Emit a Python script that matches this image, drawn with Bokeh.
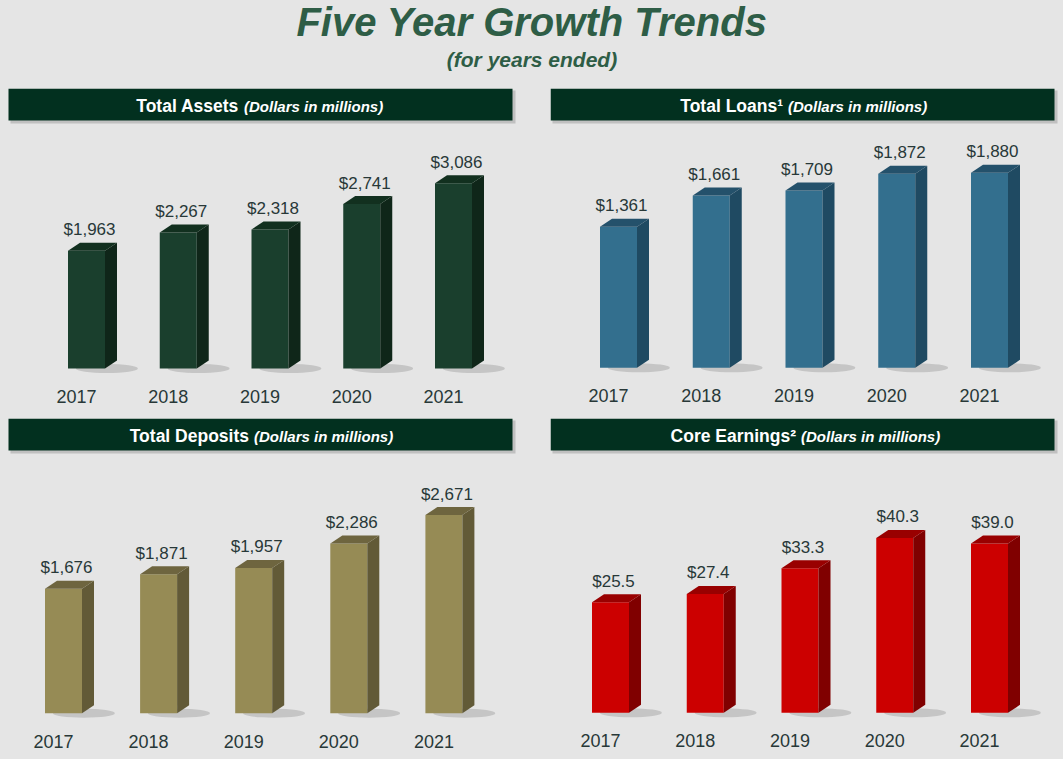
from bokeh.plotting import figure
from bokeh.models import Range1d
from bokeh.layouts import column, row
from bokeh.embed import file_html
from bokeh.resources import INLINE
from bokeh.core.properties import value

# ---------------- data ----------------
years = ["2017", "2018", "2019", "2020", "2021"]
total_assets = [1963, 2267, 2318, 2741, 3086]
total_loans = [1361, 1661, 1709, 1872, 1880]
total_deposits = [1676, 1871, 1957, 2286, 2671]
core_earnings = [25.5, 27.4, 33.3, 40.3, 39.0]

assets_labels = ["$" + f"{v:,.0f}" for v in total_assets]
loans_labels = ["$" + f"{v:,.0f}" for v in total_loans]
deposits_labels = ["$" + f"{v:,.0f}" for v in total_deposits]
earnings_labels = ["$" + f"{v:.1f}" for v in core_earnings]

BG = "#e5e5e5"
HEADER = "#02301f"
TEXT = "#283838"
FONT = value("Liberation Sans")


def panel(width, height, vals, labels, title_main, title_sub, hx0, split,
          first_px, step_px, base_px, scale, front, side, top):
    n = len(vals)
    xs = list(range(n))
    x0 = -first_px / step_px
    x1 = (width - first_px) / step_px
    y0 = -(height - base_px) / scale
    y1 = base_px / scale
    p = figure(width=width, height=height, x_range=Range1d(x0, x1),
               y_range=Range1d(y0, y1), output_backend="svg",
               toolbar_location=None, min_border=0,
               x_axis_location=None, y_axis_location=None,
               background_fill_color=BG, border_fill_color=BG,
               outline_line_color=None)
    p.grid.visible = False
    p.extra_x_ranges = {"px": Range1d(0, width)}
    p.extra_y_ranges = {"px": Range1d(height, 0)}

    # header band
    p.quad(left=[hx0 + 2], right=[hx0 + 507], top=[2], bottom=[35],
           fill_color="#9c9c9c", fill_alpha=0.5, line_color=None,
           x_range_name="px", y_range_name="px")
    p.quad(left=[hx0], right=[hx0 + 504], top=[0], bottom=[32], fill_color=HEADER,
           line_color=None, x_range_name="px", y_range_name="px")
    p.text(x=[split - 2.5], y=[17.5], text=[title_main], text_align="right",
           text_baseline="alphabetic", text_font=FONT, text_font_style="bold",
           text_font_size="17.5px", text_color="white",
           x_range_name="px", y_range_name="px")
    p.text(x=[split + 2.5], y=[17.5], text=[title_sub], text_align="left",
           text_baseline="alphabetic", text_font=FONT,
           text_font_style="bold italic", text_font_size="15px",
           text_color="white", x_range_name="px", y_range_name="px")

    w = 37.0 / step_px
    dx = 12.0 / step_px
    dy = 8.0 / scale

    # floor shadows
    p.ellipse(x=[i + w * 0.55 for i in xs], y=[0] * n, width=62, height=9,
              width_units="screen", height_units="screen",
              fill_color="#8a8a8a", fill_alpha=0.35, line_color=None)

    # front faces
    p.vbar(x=xs, top=vals, bottom=0, width=w, fill_color=front, line_color=None)
    # side faces
    side_x = [[i + w / 2, i + w / 2 + dx, i + w / 2 + dx, i + w / 2] for i in xs]
    side_y = [[0, dy, v + dy, v] for v in vals]
    p.patches(xs=side_x, ys=side_y, fill_color=side, line_color=None)
    # top faces
    top_x = [[i - w / 2, i - w / 2 + dx, i + w / 2 + dx, i + w / 2] for i in xs]
    top_y = [[v, v + dy, v + dy, v] for v in vals]
    p.patches(xs=top_x, ys=top_y, fill_color=top, line_color=None)

    # value labels
    p.text(x=xs, y=vals, text=labels, x_offset=3, y_offset=-21,
           text_align="center", text_baseline="alphabetic", text_font=FONT,
           text_font_size="17px", text_color=TEXT)
    # category labels
    p.text(x=xs, y=[0] * n, text=years, x_offset=-10, y_offset=28,
           text_align="center", text_baseline="alphabetic", text_font=FONT,
           text_font_size="18px", text_color=TEXT)
    return p


# title figure
t = figure(width=1063, height=88, x_range=Range1d(0, 1063), y_range=Range1d(88, 0),
           output_backend="svg", toolbar_location=None, min_border=0,
           x_axis_location=None, y_axis_location=None,
           background_fill_color=BG, border_fill_color=BG, outline_line_color=None)
t.grid.visible = False
t.text(x=[531.5], y=[21], text=["Five Year Growth Trends"], text_align="center",
       text_baseline="alphabetic", text_font=FONT, text_font_style="bold italic",
       text_font_size="40px", text_color="#2e5d46")
t.text(x=[531.5], y=[59], text=["(for years ended)"], text_align="center",
       text_baseline="alphabetic", text_font=FONT, text_font_style="bold italic",
       text_font_size="21px", text_color="#2e5d46")

pa = panel(550, 330, total_assets, assets_labels, "Total Assets",
           "(Dollars in millions)", 8, 241, 86, 91.75, 280, 0.0600,
           "#1a3f2d", "#0f2619", "#12301f")
pb = panel(513, 330, total_loans, loans_labels, "Total Loans\u00b9",
           "(Dollars in millions)", 0, 235, 68, 92.75, 279.3, 0.1037,
           "#336f8e", "#1f4a62", "#24516b")
pc = panel(550, 341, total_deposits, deposits_labels, "Total Deposits",
           "(Dollars in millions)", 8, 251, 63, 95.1, 294.7, 0.0742,
           "#968b55", "#625a37", "#6e653f")
pd = panel(513, 341, core_earnings, earnings_labels, "Core Earnings\u00b2",
           "(Dollars in millions)", 0, 248, 60, 94.75, 294.3, 4.34,
           "#cc0000", "#800000", "#990000")

layout = column(t, row(pa, pb), row(pc, pd))

html = file_html(layout, INLINE)
html = html.replace("</head>", "<style>body{background:#e5e5e5;margin:0;}</style></head>")
open("out.html", "w").write(html)
